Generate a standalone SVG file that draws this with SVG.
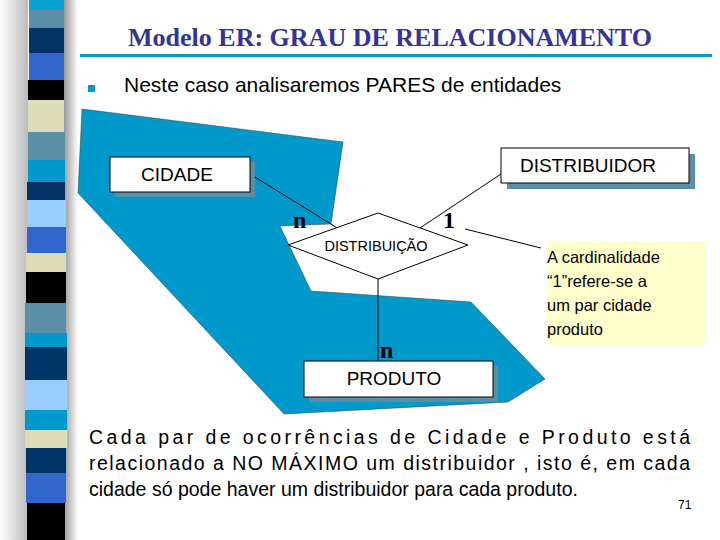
<svg xmlns="http://www.w3.org/2000/svg" width="720" height="540" viewBox="0 0 720 540">
<defs>
<linearGradient id="sh" x1="0" x2="1" y1="0" y2="0"><stop offset="0" stop-color="#fff"/><stop offset="1" stop-color="#bbb"/></linearGradient>
<linearGradient id="sh2" x1="0" x2="1" y1="0" y2="0"><stop offset="0" stop-color="#999"/><stop offset="1" stop-color="#fff"/></linearGradient>
</defs>
<style>
.s{font-family:"Liberation Sans",Arial,sans-serif}
.box{fill:#fff;stroke:#000;stroke-width:1}
.shd{fill:#5b8fa8}
.ln{stroke:#000;stroke-width:1;fill:none}
.card{font-family:"Liberation Serif","Times New Roman",serif;font-weight:bold;font-size:24px}
</style>
<rect width="720" height="540" fill="#fff"/>
<rect x="0" y="0" width="28" height="540" fill="url(#sh)"/>
<rect x="64" y="0" width="14" height="540" fill="url(#sh2)"/>
<g>
<rect x="29" y="0" width="35" height="10" fill="#0aa0d0"/>
<rect x="29" y="10" width="35" height="18" fill="#5b8fa8"/>
<rect x="29" y="28" width="35" height="25" fill="#003366"/>
<rect x="29" y="53" width="35" height="27" fill="#3366cc"/>
<rect x="28" y="80" width="36" height="20" fill="#000"/>
<rect x="28" y="100" width="36" height="32" fill="#dcdcb8"/>
<rect x="28" y="132" width="37" height="28" fill="#5b8fa8"/>
<rect x="28" y="160" width="37" height="22" fill="#0099cc"/>
<rect x="27" y="182" width="38" height="18" fill="#003366"/>
<rect x="27" y="200" width="39" height="27" fill="#99ccff"/>
<rect x="27" y="227" width="39" height="26" fill="#3366cc"/>
<rect x="26" y="253" width="40" height="19" fill="#dcdcb8"/>
<rect x="26" y="272" width="40" height="31" fill="#000"/>
<rect x="25" y="303" width="41" height="30" fill="#5b8fa8"/>
<rect x="25" y="333" width="42" height="14" fill="#0099cc"/>
<rect x="25" y="347" width="42" height="33" fill="#003366"/>
<rect x="25" y="380" width="42" height="30" fill="#99ccff"/>
<rect x="25" y="410" width="42" height="20" fill="#0099cc"/>
<rect x="25" y="430" width="42" height="18" fill="#dcdcb8"/>
<rect x="26" y="448" width="40" height="25" fill="#003366"/>
<rect x="26" y="473" width="40" height="30" fill="#3366cc"/>
<rect x="27" y="503" width="38" height="37" fill="#000"/>
</g>
<text x="390" y="46" text-anchor="middle" font-family="Liberation Serif,serif" font-weight="bold" font-size="26" fill="#333399">Modelo ER: GRAU DE RELACIONAMENTO</text>
<rect x="80" y="54" width="632" height="3" fill="#0099cc"/>
<rect x="88" y="85" width="7" height="7" fill="#0099cc"/>
<text x="124" y="92" class="s" font-size="21">Neste caso analisaremos PARES de entidades</text>
<polygon points="82,109 343,142 331,224 280,226 311,291 471,302 545,379 508,402 284,414 78,193" fill="#0099cc" stroke="#333" stroke-width="0.5"/>
<g id="connectors">
<line class="ln" x1="250" y1="174" x2="339" y2="229"/>
<line class="ln" x1="501" y1="174" x2="420" y2="228"/>
<line class="ln" x1="378" y1="279" x2="378" y2="361"/>
<line class="ln" x1="465" y1="229" x2="541" y2="248"/>
</g>
<g id="cidade"><rect class="shd" x="115" y="162" width="140" height="35"/><rect class="box" x="110" y="157" width="140" height="35"/><text x="177" y="181" text-anchor="middle" class="s" font-size="19">CIDADE</text></g>
<g id="distribuidor"><rect class="shd" x="507" y="154" width="188" height="35"/><rect class="box" x="501" y="148" width="188" height="35"/><text x="588" y="172" text-anchor="middle" class="s" font-size="19">DISTRIBUIDOR</text></g>
<g id="produto"><rect class="shd" x="309" y="366" width="189" height="36"/><rect class="box" x="304" y="361" width="189" height="36"/><text x="394" y="385" text-anchor="middle" class="s" font-size="19">PRODUTO</text></g>
<g id="distribuicao"><polygon points="288,245 378,213 468,245 378,279" fill="#fff" stroke="#000"/><text x="376" y="251" text-anchor="middle" class="s" font-size="14.5">DISTRIBUIÇÃO</text></g>
<text x="293" y="228" class="card">n</text>
<text x="443" y="228" class="card">1</text>
<text x="380" y="358" class="card">n</text>
<g id="note"><rect x="547" y="241" width="158" height="104" fill="#ffffcc"/>
<text class="s" font-size="16.5"><tspan x="547" y="263">A cardinalidade</tspan><tspan x="547" y="287">“1”refere-se a</tspan><tspan x="547" y="311">um par cidade</tspan><tspan x="547" y="335">produto</tspan></text></g>
<text class="s" font-size="19.5"><tspan x="89" y="444" textLength="601" lengthAdjust="spacing">Cada par de ocorrências de Cidade e Produto está</tspan><tspan x="89" y="470" textLength="601" lengthAdjust="spacing">relacionado a NO MÁXIMO um distribuidor , isto é, em cada</tspan><tspan x="89" y="496">cidade só pode haver um distribuidor para cada produto.</tspan></text>
<text x="678" y="509" class="s" font-size="12">71</text>
</svg>
